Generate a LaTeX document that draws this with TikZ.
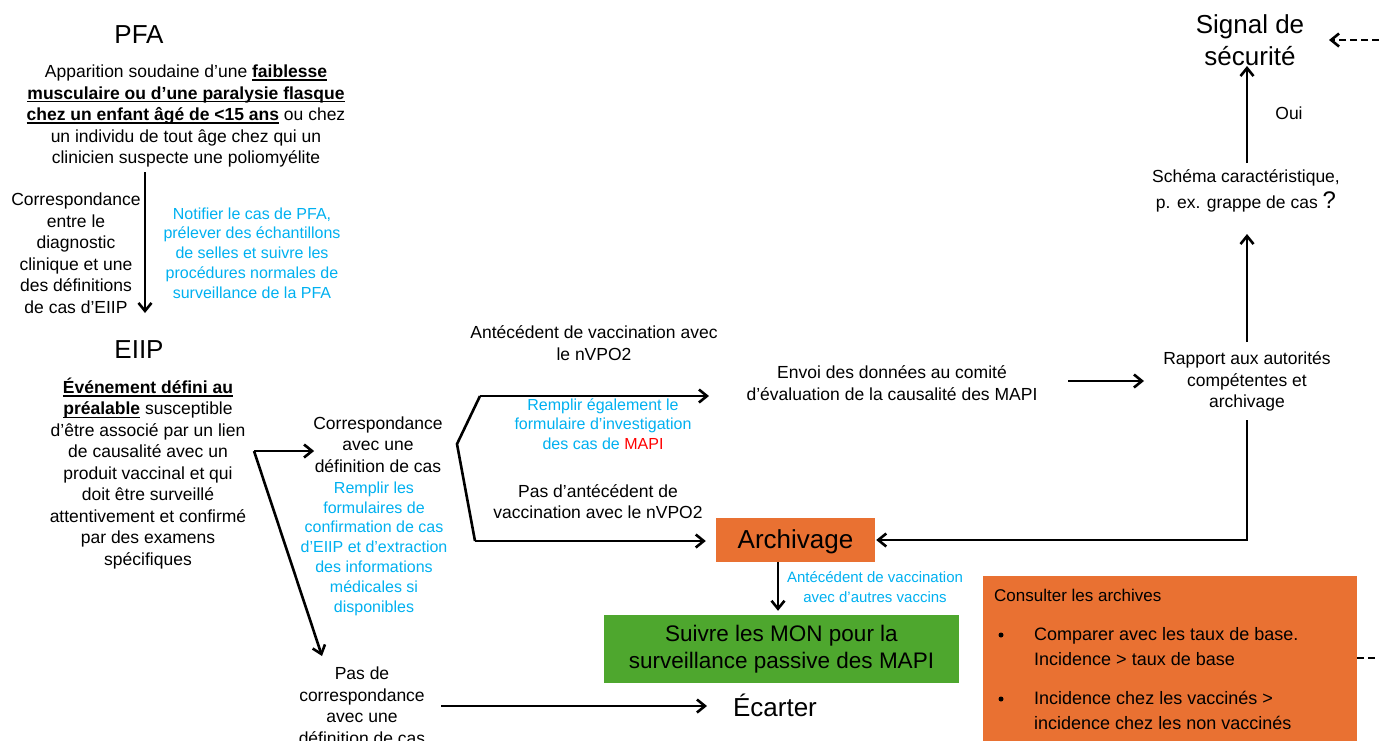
\documentclass[tikz,border=0pt]{standalone}
\usepackage{fontspec}
\setmainfont{Liberation Sans}
\usetikzlibrary{arrows.meta,calc}
\definecolor{cblue}{RGB}{0,176,240}
\definecolor{corange}{RGB}{233,113,50}
\definecolor{cgreen}{RGB}{78,167,46}
\definecolor{cred}{RGB}{255,0,0}
\newsavebox{\myulbox}
\newcommand{\myul}[1]{\sbox{\myulbox}{#1}\rlap{\rule[-3.2pt]{\wd\myulbox}{1.3pt}}\usebox{\myulbox}}
\begin{document}
\begin{tikzpicture}[x=1pt,y=-1pt,
 txt/.style={font=\fontsize{17.5}{21.5}\selectfont, align=center, inner sep=0pt},
 blu/.style={font=\fontsize{16}{19.8}\selectfont, text=cblue, align=center, inner sep=0pt},
 head/.style={font=\fontsize{26}{32}\selectfont, align=center, inner sep=0pt},
 arr/.style={line width=2.6pt, -{Straight Barb[length=8pt,width=13pt,line width=2.6pt]}},
 ln/.style={line width=2.6pt},
 dsh/.style={line width=2.6pt, dash pattern=on 7pt off 4pt},
 bul/.style={circle, fill=black, inner sep=0pt, minimum size=5pt}
]
\useasboundingbox (0,0) rectangle (1379,740);
\clip (0,0) rectangle (1379,740);

% left column
\node[head] (pfa) at (139,35) {PFA};
\node[txt] (pfadesc) at (186,116) {Apparition soudaine d’une \myul{\textbf{faiblesse}}\\ \myul{\textbf{musculaire ou d’une paralysie flasque}}\\ \myul{\textbf{chez un enfant âgé de <15 ans}} ou chez\\ un individu de tout âge chez qui un\\ clinicien suspecte une poliomyélite};
\node[txt] (corrdiag) at (76,253) {Correspondance\\entre le\\diagnostic\\clinique et une\\des définitions\\de cas d’EIIP};
\node[blu] (notif) at (252,253) {Notifier le cas de PFA,\\prélever des échantillons\\de selles et suivre les\\procédures normales de\\surveillance de la PFA};
\node[head] (eiip) at (139,350) {EIIP};
\node[txt] (eiipdesc) at (148,473.5) {\myul{\textbf{Événement défini au}}\\ \myul{\textbf{préalable}} susceptible\\d’être associé par un lien\\de causalité avec un\\produit vaccinal et qui\\doit être surveillé\\attentivement et confirmé\\par des examens\\spécifiques};

% middle
\node[txt] (corr) at (378,444.5) {Correspondance\\avec une\\définition de cas};
\node[blu] (remplir) at (374,548.5) {Remplir les\\formulaires de\\confirmation de cas\\d’EIIP et d’extraction\\des informations\\médicales si\\disponibles};
\node[txt] (pascorr) at (362,705.5) {Pas de\\correspondance\\avec une\\définition de cas};
\node[head] (ecarter) at (775,705) {Écarter};
\node[txt] (antnvpo) at (594,343) {Antécédent de vaccination avec\\le nVPO2};
\node[blu] (remplir2) at (603,424) {Remplir également le\\formulaire d’investigation\\des cas de \textcolor{cred}{MAPI}};
\node[txt] (pasant) at (598,501.5) {Pas d’antécédent de\\vaccination avec le nVPO2};
\node[txt] (envoi) at (892,383) {Envoi des données au comité\\d’évaluation de la causalité des MAPI};

% right column
\node[txt] (rapport) at (1247,381.5) {Rapport aux autorités\\compétentes et\\archivage};
\node[txt] (schema) at (1246,191) {Schéma caractéristique,\\[4pt]p. ex. grappe de cas {\fontsize{24}{24}\selectfont ?}};
\node[head] (signal) at (1250,40) {Signal de\\sécurité};
\node[txt] (oui) at (1289,113) {Oui};

% boxes
\node[fill=corange, minimum width=159pt, minimum height=44pt, inner sep=0pt] (archivage) at (795.5,540) {};
\node[font=\fontsize{26}{30}\selectfont, inner sep=0pt] (archtxt) at (795.5,542) {Archivage};
\node[blu, font=\fontsize{15}{20}\selectfont] (autres) at (875,587) {Antécédent de vaccination\\avec d’autres vaccins};
\node[fill=cgreen, minimum width=355pt, minimum height=68pt, inner sep=0pt, align=center, font=\fontsize{22.5}{27}\selectfont] (suivre) at (781.5,649) {Suivre les MON pour la\\surveillance passive des MAPI};
\node[fill=corange, minimum width=374pt, minimum height=190pt, inner sep=0pt, anchor=north west] (archbox) at (983,576) {};
\node[anchor=west, font=\fontsize{17}{21}\selectfont, inner sep=0pt] (consult) at (994,595) {Consulter les archives};
\node[bul] (b1) at (1001,635) {};
\node[bul] (b2) at (1001,699) {};
\node[anchor=west, align=left, font=\fontsize{18}{25}\selectfont, inner sep=0pt] (c1) at (1034,646.5) {Comparer avec les taux de base.\\Incidence > taux de base};
\node[anchor=west, align=left, font=\fontsize{18}{25}\selectfont, inner sep=0pt] (c2) at (1034,710.5) {Incidence chez les vaccinés >\\incidence chez les non vaccinés};

% coordinates
\coordinate (a1s) at (145,172);
\coordinate (a1e) at (145,313);
\coordinate (fork) at (254,451);
\coordinate (a2e) at (322,656);
\coordinate (bt) at (480,396);
\coordinate (bv) at (457,444);
\coordinate (bb) at (475,541);
\coordinate (a3e) at (709,396);
\coordinate (a4s) at (1068,381);
\coordinate (a4e) at (1144,381);
\coordinate (a5s) at (1247,342);
\coordinate (a5e) at (1247,234);
\coordinate (a6s) at (1247,163);
\coordinate (a6e) at (1247,66);
\coordinate (rs) at (1247,420);
\coordinate (dx) at (778,0);
\coordinate (ps) at (441,706);
\coordinate (pe) at (707,706);
\coordinate (d1s) at (1379,40);
\coordinate (d1e) at (1329,40);
\coordinate (d2e) at (1379,658);

% connectors
\draw[arr] (a1s) -- (a1e);
\draw[arr] (fork) -- ([xshift=1pt]fork -| corr.west);
\draw[arr] (fork) -- (a2e);
\draw[ln, line join=miter] (bb) -- (bv) -- (bt);
\draw[arr] (bt) -- (a3e);
\draw[arr, shorten >=10pt] (bb) -- (bb -| archivage.west);
\draw[arr] (a4s) -- (a4e);
\draw[arr] (a5s) -- (a5e);
\draw[arr] (a6s) -- (a6e);
\draw[arr] (rs) |- ([xshift=1pt]archivage.east);
\draw[arr, shorten >=4pt] (archivage.south -| dx) -- (suivre.north -| dx);
\draw[arr] (ps) -- (pe);
\draw[arr, dash pattern=on 7pt off 4pt] (d1s) -- (d1e);
\draw[dsh] (archbox.east |- d2e) -- (d2e);
\end{tikzpicture}
\end{document}
